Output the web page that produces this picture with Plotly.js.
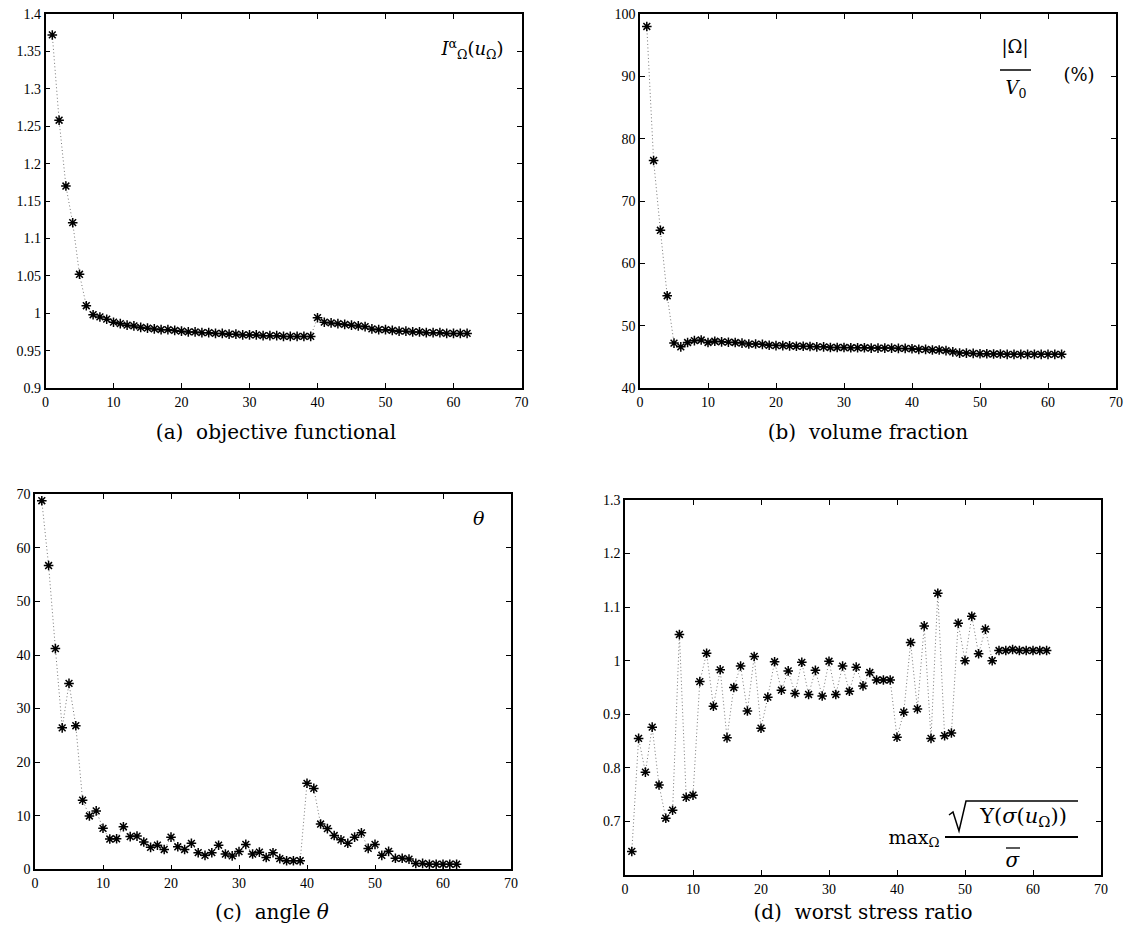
<!DOCTYPE html>
<html>
<head>
<meta charset="utf-8">
<script src="https://cdn.plot.ly/plotly-3.0.1.min.js"></script>
<style>
  html, body { margin: 0; padding: 0; background: #fff; }
  #chart { width: 1139px; height: 943px; }
</style>
</head>
<body>
<div id="chart"></div>
<script>
// ---------------- data ----------------
const iterations = [1,2,3,4,5,6,7,8,9,10,11,12,13,14,15,16,17,18,19,20,21,22,23,24,25,26,27,28,29,30,31,32,33,34,35,36,37,38,39,40,41,42,43,44,45,46,47,48,49,50,51,52,53,54,55,56,57,58,59,60,61,62];

const objectiveFunctional = [1.372,1.258,1.170,1.121,1.052,1.010,0.998,0.995,0.992,0.988,0.986,0.984,0.983,0.981,0.980,0.979,0.978,0.978,0.977,0.976,0.975,0.975,0.974,0.974,0.973,0.973,0.972,0.972,0.971,0.971,0.971,0.970,0.970,0.970,0.969,0.969,0.969,0.969,0.969,0.994,0.988,0.987,0.986,0.985,0.984,0.983,0.982,0.979,0.978,0.978,0.977,0.976,0.976,0.975,0.975,0.974,0.974,0.974,0.973,0.973,0.973,0.973];

const volumeFraction = [98.0,76.5,65.3,54.8,47.2,46.6,47.3,47.6,47.7,47.3,47.5,47.4,47.35,47.3,47.2,47.05,47.05,47.0,46.85,46.8,46.8,46.75,46.7,46.7,46.65,46.6,46.6,46.5,46.5,46.5,46.45,46.45,46.45,46.4,46.4,46.4,46.4,46.35,46.35,46.3,46.2,46.2,46.1,46.1,46.0,45.8,45.6,45.6,45.55,45.5,45.5,45.45,45.45,45.4,45.4,45.4,45.4,45.4,45.4,45.4,45.4,45.4];

const angleTheta = [68.8,56.7,41.2,26.4,34.7,26.8,12.9,9.95,10.9,7.65,5.65,5.7,7.95,6.1,6.2,5.1,4.1,4.5,3.7,6.0,4.2,3.7,4.85,3.1,2.6,3.1,4.5,2.85,2.5,3.3,4.65,2.85,3.2,2.2,3.1,2.0,1.6,1.6,1.6,16.05,15.1,8.45,7.6,6.3,5.5,4.85,6.0,6.8,3.9,4.65,2.6,3.35,2.05,2.05,1.9,1.1,1.1,0.95,0.95,0.95,0.95,0.95];

const worstStressRatio = [0.644,0.855,0.792,0.876,0.768,0.706,0.721,1.049,0.745,0.749,0.961,1.014,0.915,0.983,0.856,0.950,0.990,0.906,1.008,0.874,0.932,0.998,0.945,0.981,0.939,0.997,0.937,0.982,0.934,0.999,0.937,0.990,0.943,0.988,0.953,0.978,0.964,0.964,0.964,0.857,0.904,1.034,0.910,1.065,0.855,1.126,0.860,0.865,1.070,1.000,1.083,1.013,1.059,1.000,1.019,1.019,1.021,1.019,1.019,1.019,1.019,1.019];

const xTickVals = [0,10,20,30,40,50,60,70];
const xTickText = ['0','10','20','30','40','50','60','70'];
const objTickVals = [0.9,0.95,1.0,1.05,1.1,1.15,1.2,1.25,1.3,1.35,1.4];
const objTickText = ['0.9','0.95','1','1.05','1.1','1.15','1.2','1.25','1.3','1.35','1.4'];
const volTickVals = [40,50,60,70,80,90,100];
const volTickText = ['40','50','60','70','80','90','100'];
const angTickVals = [0,10,20,30,40,50,60,70];
const angTickText = ['0','10','20','30','40','50','60','70'];
const strTickVals = [0.7,0.8,0.9,1.0,1.1,1.2,1.3];
const strTickText = ['0.7','0.8','0.9','1','1.1','1.2','1.3'];

const captions = ['(a)  objective functional', '(b)  volume fraction', '(c)  angle <i>θ</i>', '(d)  worst stress ratio'];

// ---------------- layout helpers ----------------
const W = 1139, H = 943;
const px = x => x / W;
const py = y => 1 - y / H;
const TICKFONT = '"Liberation Serif", "Times New Roman", Times, serif';
const CAPFONT = '"DejaVu Serif", Georgia, serif';

function trace(y, ax) {
  return {
    x: iterations, y: y, xaxis: 'x' + ax, yaxis: 'y' + ax,
    type: 'scatter', mode: 'lines+markers',
    line: { color: '#777', width: 1, dash: '1px,2.5px' },
    marker: { symbol: 'asterisk', size: 8, color: '#000', line: { color: '#000', width: 1.5 } },
    showlegend: false, hoverinfo: 'x+y'
  };
}

function xax(x0, x1, yanchor) {
  return {
    domain: [px(x0), px(x1)], anchor: yanchor, range: [0, 70],
    tickvals: xTickVals, ticktext: xTickText,
    ticks: 'inside', ticklen: 5, tickwidth: 1, tickcolor: '#000',
    showline: true, linecolor: '#000', linewidth: 1.5, mirror: 'ticks',
    showgrid: false, zeroline: false,
    tickfont: { family: TICKFONT, size: 14, color: '#000' }
  };
}
function yax(y0, y1, range, tv, tt, xanchor) {
  return {
    domain: [py(y1), py(y0)], anchor: xanchor, range: range,
    tickvals: tv, ticktext: tt,
    ticks: 'inside', ticklen: 5, tickwidth: 1, tickcolor: '#000',
    showline: true, linecolor: '#000', linewidth: 1.5, mirror: 'ticks',
    showgrid: false, zeroline: false,
    tickfont: { family: TICKFONT, size: 14, color: '#000' }
  };
}

function ann(text, x, y, size, w, h) {
  return {
    text: text, xref: 'paper', yref: 'paper', x: px(x), y: py(y),
    xanchor: 'center', yanchor: 'middle', showarrow: false,
    width: w, height: h, align: 'center', valign: 'middle',
    font: { family: CAPFONT, size: size, color: '#000' }
  };
}
function hline(x0, x1, y, w) {
  return { type: 'line', xref: 'paper', yref: 'paper', x0: px(x0), x1: px(x1), y0: py(y), y1: py(y),
           line: { color: '#000', width: w || 1.5 } };
}

const data = [
  trace(objectiveFunctional, ''),
  trace(volumeFraction, '2'),
  trace(angleTheta, '3'),
  trace(worstStressRatio, '4')
];

const layout = {
  width: W, height: H,
  margin: { l: 0, r: 0, t: 0, b: 0 },
  paper_bgcolor: '#fff', plot_bgcolor: '#fff',
  font: { family: CAPFONT, size: 14, color: '#000' },
  xaxis:  xax(45.5, 521.5, 'y'),
  yaxis:  yax(14, 388, [0.9, 1.4], objTickVals, objTickText, 'x'),
  xaxis2: xax(640, 1116, 'y2'),
  yaxis2: yax(14, 388, [40, 100], volTickVals, volTickText, 'x2'),
  xaxis3: xax(35, 511, 'y3'),
  yaxis3: yax(494.3, 869.3, [0, 70], angTickVals, angTickText, 'x3'),
  xaxis4: xax(625, 1101, 'y4'),
  yaxis4: yax(500, 875, [0.6, 1.3], strTickVals, strTickText, 'x4'),
  annotations: [
    ann(captions[0], 276, 432, 20, 300, 28),
    ann(captions[1], 868, 432, 20, 260, 28),
    ann(captions[2], 272, 912, 20, 160, 28),
    ann(captions[3], 863, 912, 20, 270, 28),
    ann('<i>I</i><sup>α</sup><sub>Ω</sub>(<i>u</i><sub>Ω</sub>)', 472, 49, 18, 80, 30),
    ann('|Ω|', 1015, 47, 18, 40, 26),
    ann('<i>V</i><sub>0</sub>', 1016, 89, 18, 40, 26),
    ann('(%)', 1079, 74, 18, 44, 26),
    ann('<i>θ</i>', 479, 518, 19, 24, 26),
    ann('max<sub>Ω</sub>', 914, 838, 19, 70, 28),
    ann('Υ(<i>σ</i>(<i>u</i><sub>Ω</sub>))', 1023, 817, 21, 120, 30),
    ann('<i>σ</i>', 1013, 860, 20, 24, 26)
  ],
  shapes: [
    hline(1000, 1031, 70, 1.5),
    hline(945, 1078, 837, 2),
    hline(1006, 1020, 848, 1.3),
    { type: 'path', xref: 'paper', yref: 'paper',
      path: 'M ' + px(949) + ' ' + py(815) + ' L ' + px(953) + ' ' + py(812) +
            ' L ' + px(959) + ' ' + py(831) + ' L ' + px(966) + ' ' + py(801) +
            ' L ' + px(1078) + ' ' + py(801),
      line: { color: '#000', width: 1.5 } }
  ]
};

Plotly.newPlot('chart', data, layout, { displayModeBar: false });
</script>
</body>
</html>
